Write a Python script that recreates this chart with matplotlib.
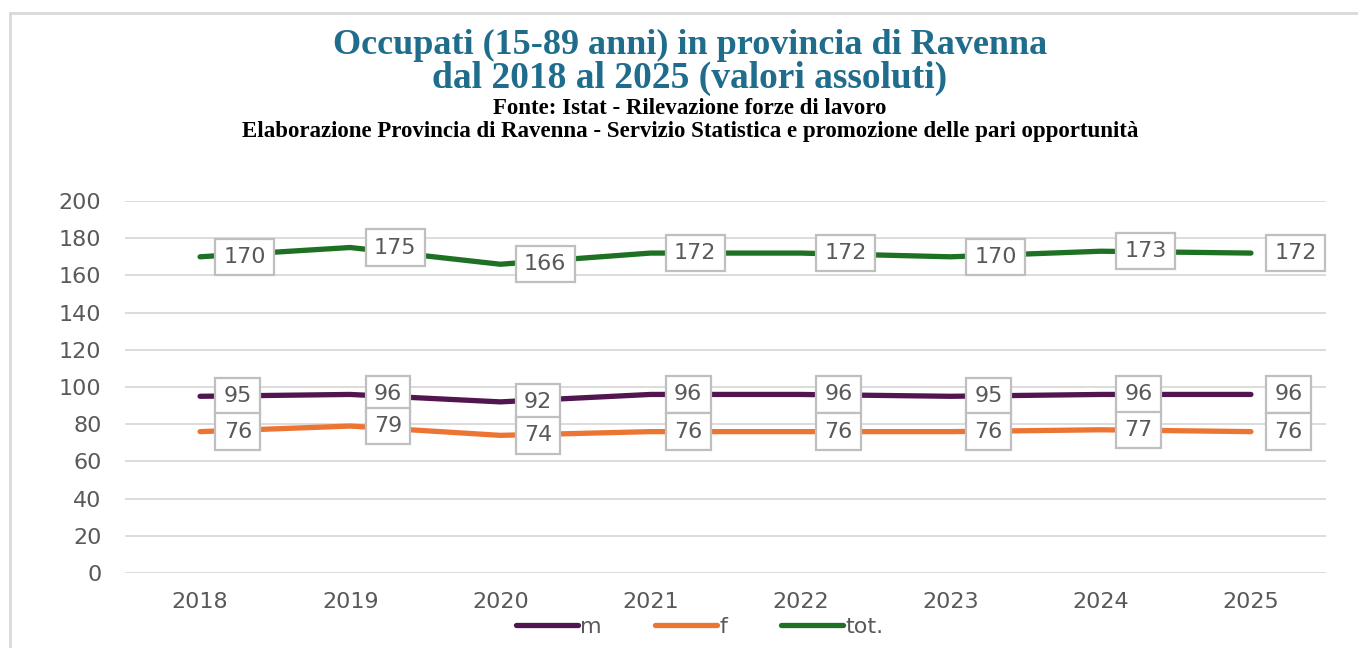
import numpy as np
import matplotlib.pyplot as plt
from matplotlib.lines import Line2D

# dati (migliaia di occupati)
anni = ["2018", "2019", "2020", "2021", "2022", "2023", "2024", "2025"]
maschi = [95, 96, 92, 96, 96, 95, 96, 96]
femmine = [76, 79, 74, 76, 76, 76, 77, 76]
totale = [170, 175, 166, 172, 172, 170, 173, 172]

serie = [("m", maschi, "#511650"), ("f", femmine, "#ed7533"), ("tot.", totale, "#1e7023")]

grigio = "#595959"
plt.rcParams['font.family'] = ['DejaVu Sans']

fig = plt.figure(figsize=(13.58, 6.48), dpi=100)
ax = fig.add_axes([125/1358, 1-573/648, 1201/1358, 372/648])

x = np.arange(len(anni))
for nome, val, col in serie:
    ax.plot(x, val, color=col, lw=3.8, solid_joinstyle='round', solid_capstyle='round', label=nome, zorder=3)
    for xi, v in zip(x, val):
        ax.annotate(str(v), (xi, v), xytext=(17, 0), textcoords='offset points',
                    ha='left', va='center', fontsize=16, color=grigio, zorder=5,
                    bbox=dict(boxstyle='square,pad=0.37', fc='white', ec='#bfbfbf', lw=1.6))

ax.set_xlim(-0.5, len(anni)-0.5)
ax.set_ylim(0, 200)
ax.set_yticks(range(0, 201, 20))
ax.set_xticks(x)
ax.set_xticklabels(anni)
ax.tick_params(length=0, labelsize=16, labelcolor=grigio)
ax.tick_params(axis='y', pad=17)
ax.tick_params(axis='x', pad=14)
ax.grid(axis='y', color='#d9d9d9', lw=1.3)
ax.set_axisbelow(True)
for s in ax.spines.values():
    s.set_visible(False)

# titoli
serif = ['Liberation Serif', 'DejaVu Serif']
blu = '#1f6c8c'
fig.text(0.508, 1-45/648, "Occupati (15-89 anni) in provincia di Ravenna", ha='center', va='center',
         fontsize=26, fontweight='bold', color=blu, family=serif)
fig.text(0.508, 1-78/648, "dal 2018 al 2025 (valori assoluti)", ha='center', va='center',
         fontsize=27, fontweight='bold', color=blu, family=serif)
fig.text(0.508, 1-108/648, "Fonte: Istat - Rilevazione forze di lavoro", ha='center', va='center',
         fontsize=16.5, fontweight='bold', color='black', family=serif)
fig.text(0.508, 1-131/648, "Elaborazione Provincia di Ravenna - Servizio Statistica e promozione delle pari opportunità",
         ha='center', va='center', fontsize=16.5, fontweight='bold', color='black', family=serif)

# legenda
fig.legend(loc='center', bbox_to_anchor=(0.515, 1-627/648), ncol=3, frameon=False,
           fontsize=16, labelcolor=grigio, handlelength=2.8, handletextpad=0.1, columnspacing=2.4)

# cornice
fig.add_artist(Line2D([10/1358, 10/1358], [0, 1-13/648], color='#d9d9d9', lw=2))
fig.add_artist(Line2D([10/1358, 1], [1-13/648, 1-13/648], color='#d9d9d9', lw=2))

fig.savefig("out.png", dpi=100)
